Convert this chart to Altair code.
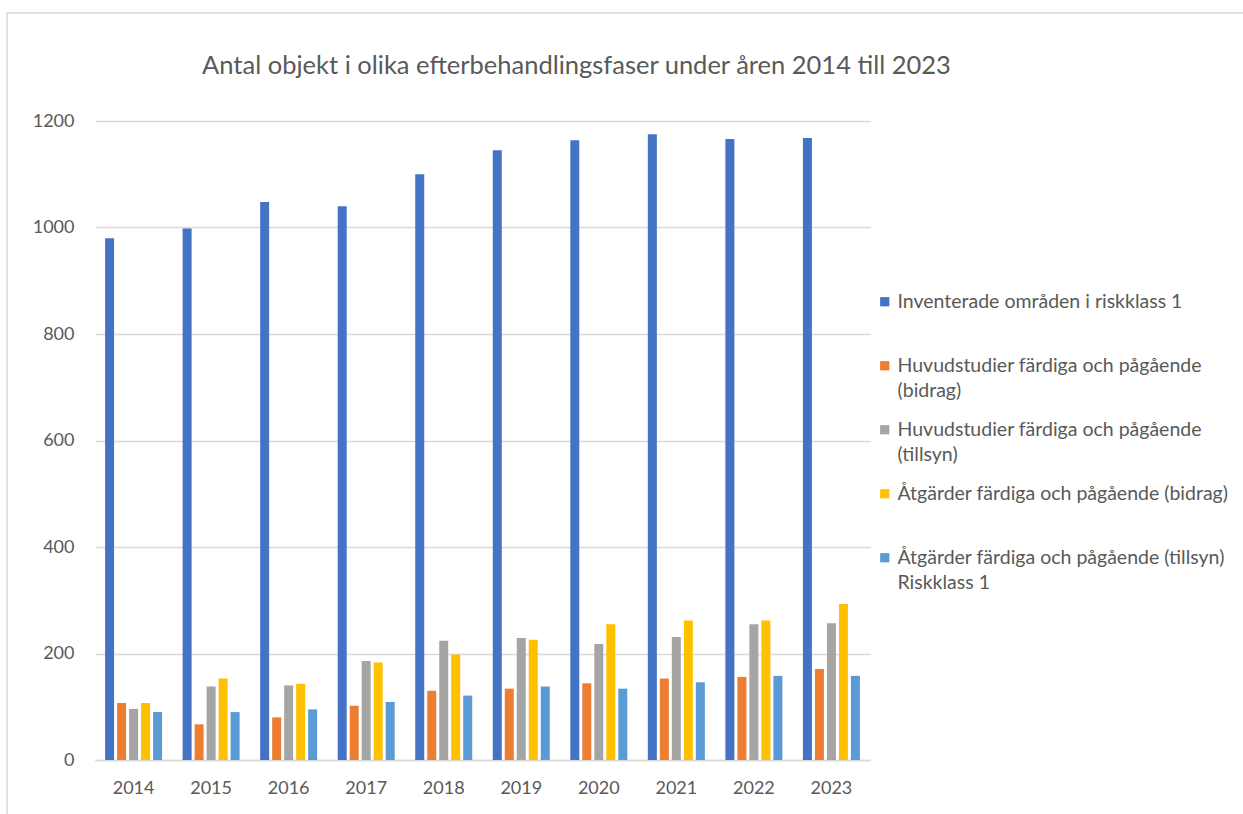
import altair as alt
import pandas as pd

years = ["2014", "2015", "2016", "2017", "2018", "2019", "2020", "2021", "2022", "2023"]
series = [
    "Inventerade områden i riskklass 1| ",
    "Huvudstudier färdiga och pågående|(bidrag)",
    "Huvudstudier färdiga och pågående|(tillsyn)",
    "Åtgärder färdiga och pågående (bidrag)| ",
    "Åtgärder färdiga och pågående (tillsyn)|Riskklass 1",
]
inventerade = [980, 998, 1048, 1040, 1100, 1145, 1164, 1175, 1166, 1168]
huvud_bidrag = [107, 67, 80, 102, 130, 134, 144, 153, 156, 171]
huvud_tillsyn = [96, 138, 140, 186, 224, 229, 218, 231, 255, 257]
atg_bidrag = [107, 153, 143, 183, 198, 226, 255, 262, 262, 293]
atg_tillsyn = [90, 90, 95, 109, 121, 138, 134, 146, 158, 158]
colors = ["#4472C4", "#ED7D31", "#A5A5A5", "#FFC000", "#5B9BD5"]

rows = []
for s, vals in zip(series, [inventerade, huvud_bidrag, huvud_tillsyn, atg_bidrag, atg_tillsyn]):
    for y, v in zip(years, vals):
        rows.append({"year": y, "series": s, "value": v})
df = pd.DataFrame(rows)

FONT = "Lato"
TXT = "#595959"

bars = alt.Chart(df).mark_bar().encode(
    x=alt.X("year:N", sort=years, title=None,
            scale=alt.Scale(paddingInner=0.265, paddingOuter=0.13),
            axis=alt.Axis(labelAngle=0, ticks=False, domain=True, domainColor="#D9D9D9",
                          domainWidth=1.5, labelPadding=19, labelFontSize=18,
                          labelColor=TXT, labelFont=FONT)),
    xOffset=alt.XOffset("series:N", sort=series, scale=alt.Scale(paddingInner=0.25, paddingOuter=0)),
    y=alt.Y("value:Q", title=None,
            scale=alt.Scale(domain=[0, 1200], nice=False),
            axis=alt.Axis(values=[0, 200, 400, 600, 800, 1000, 1200], ticks=False, domain=False,
                          format="d", gridColor="#D9D9D9", gridWidth=1.5, labelPadding=21,
                          labelFontSize=18, labelColor=TXT, labelFont=FONT)),
    color=alt.Color("series:N", sort=series,
                    scale=alt.Scale(domain=series, range=colors),
                    legend=alt.Legend(title=None, orient="none", legendX=780, legendY=171,
                                      labelExpr="split(datum.label, '|')",
                                      labelFont=FONT, labelFontSize=19.5, labelColor=TXT,
                                      labelLimit=400, symbolType="square", symbolSize=85,
                                      symbolStrokeWidth=0, rowPadding=18, padding=0,
                                      labelOffset=3)),
)

border_top = alt.Chart(pd.DataFrame({"a": [0]})).mark_rule(color="#D9D9D9", strokeWidth=1.5).encode(
    x=alt.value(-88), x2=alt.value(1160), y=alt.value(-108))
border_left = alt.Chart(pd.DataFrame({"a": [0]})).mark_rule(color="#D9D9D9", strokeWidth=1.5).encode(
    x=alt.value(-88), y=alt.value(-108), y2=alt.value(700))

chart = alt.layer(border_top, border_left, bars).properties(
    width=775, height=639,
    title=alt.TitleParams("Antal objekt i olika efterbehandlingsfaser under åren 2014 till 2023",
                          font=FONT, fontSize=25.5, fontWeight="normal", color=TXT,
                          anchor="middle", dx=94, offset=-67),
    padding={"left": 95, "top": 121, "right": 373, "bottom": 54},
    autosize="none",
).configure(
    background="white",
    style={"guide-label": {"lineHeight": 25}},
).configure_view(stroke=None)

chart.save("out.html", embed_options={"renderer": "svg", "actions": False})
